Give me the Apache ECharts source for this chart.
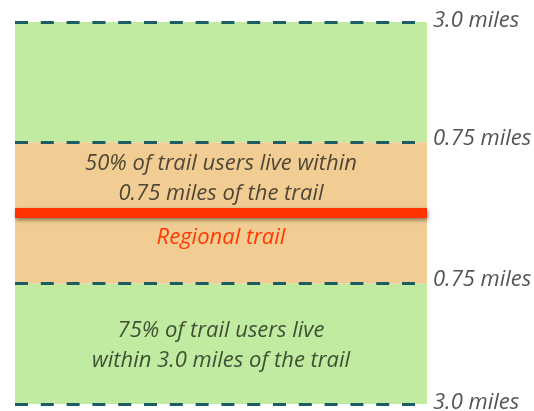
<!DOCTYPE html>
<html>
<head>
<meta charset="utf-8">
<script src="https://cdn.jsdelivr.net/npm/echarts@6/dist/echarts.min.js"></script>
<style>
  html, body { margin: 0; padding: 0; background: #fff; }
  #chart { width: 534px; height: 411px; }
</style>
</head>
<body>
<div id="chart"></div>
<script>
// schematic distance scale: the 0.75 mile zone is 1 unit, the 3.0 mile zone edge sits at 2.7
const zoneEdges = [2.7, 1, 0, -1, -2.7]
const edgeLabels = ['3.0 miles', '0.75 miles', '0.75 miles', '3.0 miles']
const zoneTexts = [
  '',
  '50% of trail users live within\n0.75 miles of the trail',
  'Regional trail',
  '75% of trail users live\nwithin 3.0 miles of the trail'
]
const trailLabel = 'Regional trail'

const font = '"Open Sans", sans-serif'
const green = '#c1eba0'
const orange = '#f2cd93'

const chart = echarts.init(document.getElementById('chart'), null, { renderer: 'canvas' })

const areaLabel = (text, color, pos, extra) => Object.assign({
  show: !!text,
  formatter: text,
  position: pos,
  color: color,
  fontFamily: font,
  fontStyle: 'italic',
  fontSize: 22,
  lineHeight: 30,
  offset: [0, 0]
}, extra || {})

const areas = [
  [{ yAxis: zoneEdges[0], xAxis: 0, itemStyle: { color: green }, label: areaLabel(zoneTexts[0], '#3f5035', 'inside') }, { yAxis: zoneEdges[1], xAxis: 1 }],
  [{ yAxis: zoneEdges[1], xAxis: 0, itemStyle: { color: orange }, label: areaLabel(zoneTexts[1], '#4f4737', 'inside', { offset: [0, 1] }) }, { yAxis: zoneEdges[2], xAxis: 1 }],
  [{ yAxis: zoneEdges[2], xAxis: 0, itemStyle: { color: orange }, label: areaLabel(zoneTexts[2], '#ff3a00', 'insideTop', { distance: 13, lineHeight: 24 }) }, { yAxis: zoneEdges[3], xAxis: 1 }],
  [{ yAxis: zoneEdges[3], xAxis: 0, itemStyle: { color: green }, label: areaLabel(zoneTexts[3], '#3f5035', 'inside', { offset: [0, 2] }) }, { yAxis: zoneEdges[4], xAxis: 1 }]
]

const edgeValues = [zoneEdges[0], zoneEdges[1], zoneEdges[3], zoneEdges[4]]
const boundaryLines = edgeValues.map((v, i) => [
  {
    coord: [0, v],
    label: {
      show: true,
      position: 'end',
      formatter: edgeLabels[i],
      distance: 6,
      offset: [0, i === 0 || i === 3 ? -1 : -4],
      color: '#555',
      fontFamily: font,
      fontStyle: 'italic',
      fontSize: 22
    }
  },
  { coord: [1, v] }
])

const option = {
  animation: false,
  grid: { left: 15, right: 107, top: 22, bottom: 7 },
  xAxis: { type: 'value', min: 0, max: 1, show: false },
  yAxis: { type: 'value', min: zoneEdges[4], max: zoneEdges[0], show: false },
  series: [
    {
      type: 'line',
      data: [],
      markArea: { silent: true, data: areas }
    },
    {
      type: 'line',
      data: [],
      markLine: {
        silent: true,
        symbol: 'none',
        lineStyle: { color: '#1c5d63', width: 3, type: [13, 12.8] },
        data: boundaryLines
      }
    },
    {
      type: 'line',
      name: trailLabel,
      data: [],
      markLine: {
        silent: true,
        symbol: 'none',
        label: { show: false },
        lineStyle: {
          color: '#ff3300', width: 10, type: 'solid',
          shadowColor: 'rgba(0,0,0,0.45)', shadowBlur: 4, shadowOffsetY: 2, shadowOffsetX: 1
        },
        data: [[{ coord: [0, zoneEdges[2]] }, { coord: [1, zoneEdges[2]] }]]
      }
    }
  ]
}

chart.setOption(option)
</script>
</body>
</html>
